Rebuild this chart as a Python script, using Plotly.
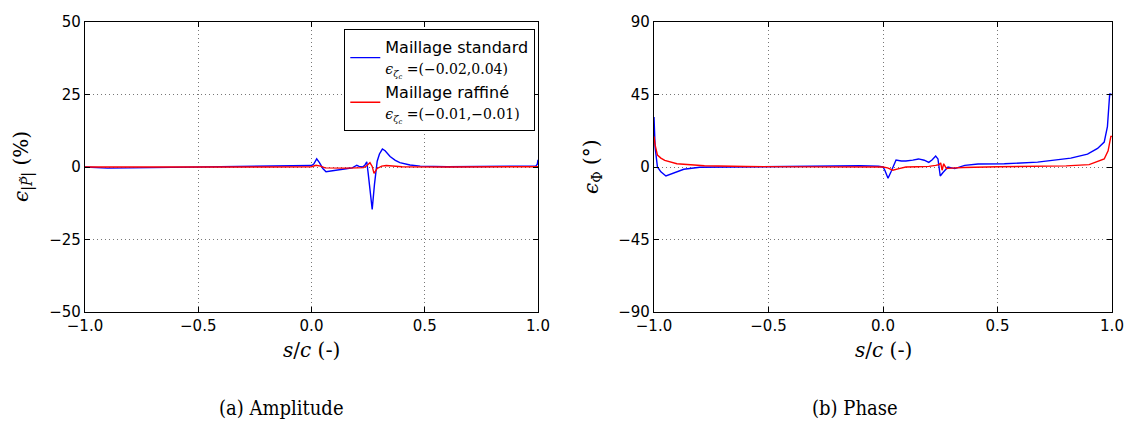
import plotly.graph_objects as go

# ---------------- data ----------------
amp_std_s = [-1.0, -0.95, -0.9, -0.8, -0.6, -0.4, -0.2, -0.05, 0.0, 0.01, 0.023, 0.035, 0.05, 0.064,
             0.08, 0.1, 0.13, 0.16, 0.18, 0.19, 0.2, 0.21, 0.225, 0.235, 0.244, 0.25, 0.258, 0.268,
             0.278, 0.29, 0.3, 0.313, 0.325, 0.347, 0.37, 0.39, 0.435, 0.48, 0.6, 0.8, 0.95, 0.99,
             0.997, 1.0]
amp_std_v = [0, -0.3, -0.4, -0.3, -0.1, 0, 0.1, 0.3, 0.5, 1.0, 2.8, 1.5, -0.5, -1.6,
             -1.4, -1.0, -0.7, -0.5, -0.3, 0.3, 0.6, 0.2, 0.0, 0.6, 1.8, -2.0, -8.0, -14.6,
             -6.0, 2.0, 4.5, 6.2, 5.6, 3.6, 2.3, 1.5, 0.7, 0.3, 0.1, 0.1, 0.2, 0.3,
             1.0, 2.5]

amp_raf_s = [-1.0, -0.8, -0.5, -0.2, 0.0, 0.02, 0.04, 0.06, 0.1, 0.15, 0.2, 0.23, 0.245, 0.258,
             0.268, 0.276, 0.29, 0.31, 0.33, 0.36, 0.4, 0.6, 0.9, 1.0]
amp_raf_v = [0, -0.1, 0, 0, 0.1, 0.6, 0.3, -0.3, -0.4, -0.4, -0.3, -0.2, 0.5, 1.5,
             0.2, -2.2, -0.5, 0.3, 0.5, 0.3, 0.1, 0, 0, 0.1]

ph_std_s = [-1.0, -0.995, -0.985, -0.97, -0.948, -0.915, -0.87, -0.8, -0.6, -0.3, -0.1, -0.02,
            0.0, 0.008, 0.022, 0.035, 0.057, 0.08, 0.1, 0.13, 0.155, 0.18, 0.2, 0.215, 0.23,
            0.24, 0.25, 0.262, 0.284, 0.3, 0.313, 0.357, 0.415, 0.53, 0.675, 0.82, 0.893,
            0.937, 0.966, 0.98, 0.99, 0.995, 1.0]
ph_std_v = [31, 12, 0, -3, -5.6, -3.9, -1.4, -0.2, 0.2, 0.8, 0.8, 0.5,
            0, -2, -7, -3, 4.3, 3.7, 3.7, 4.3, 5.0, 4.2, 2.9, 4.5, 6.8,
            5, -5.6, -3.4, 0, -0.5, -1, 1, 1.9, 2.0, 3.0, 5.5, 8,
            11.5, 15.5, 25, 45.5, 45, 45]

ph_raf_s = [-1.0, -0.995, -0.985, -0.97, -0.953, -0.9, -0.78, -0.6, -0.3, 0.0, 0.02, 0.043,
            0.07, 0.1, 0.15, 0.2, 0.23, 0.245, 0.252, 0.258, 0.265, 0.277, 0.3, 0.35, 0.5,
            0.7, 0.8, 0.9, 0.93, 0.966, 0.983, 0.995, 1.0]
ph_raf_v = [19, 13.6, 7.4, 5.5, 4.1, 2.0, 0.8, 0.3, 0.1, 0, -0.5, -2,
            -1, 0, 0.2, 0.4, 1, 1.5, 2.5, -2, 2, -1, -0.7, -0.3, 0.2,
            0.4, 0.7, 1.5, 3, 5, 10, 19, 19]

x_ticks = [-1.0, -0.5, 0.0, 0.5, 1.0]
x_tick_labels = ["\u22121.0", "\u22120.5", "0.0", "0.5", "1.0"]
amp_ticks = [-50, -25, 0, 25, 50]
amp_tick_labels = ["\u221250", "\u221225", "0", "25", "50"]
ph_ticks = [-90, -45, 0, 45, 90]
ph_tick_labels = ["\u221290", "\u221245", "0", "45", "90"]

name_std = ("Maillage standard<br><span style=\"font-family:'DejaVu Serif';font-size:14px\">"
            "<i>\u03f5</i><sub><i>\u03b6<sub>c</sub></i></sub> =(\u22120.02,0.04)</span>")
name_raf = ("Maillage raffin\u00e9<br><span style=\"font-family:'DejaVu Serif';font-size:14px\">"
            "<i>\u03f5</i><sub><i>\u03b6<sub>c</sub></i></sub> =(\u22120.01,\u22120.01)</span>")

BLUE = "#0000ff"
RED = "#ff0000"
W, H = 1126, 421

fig = go.Figure()
fig.add_trace(go.Scatter(x=amp_std_s, y=amp_std_v, mode="lines", name=name_std,
                         line=dict(color=BLUE, width=1.4), xaxis="x", yaxis="y"))
fig.add_trace(go.Scatter(x=amp_raf_s, y=amp_raf_v, mode="lines", name=name_raf,
                         line=dict(color=RED, width=1.4), xaxis="x", yaxis="y"))
fig.add_trace(go.Scatter(x=ph_std_s, y=ph_std_v, mode="lines", showlegend=False,
                         line=dict(color=BLUE, width=1.4), xaxis="x2", yaxis="y2"))
fig.add_trace(go.Scatter(x=ph_raf_s, y=ph_raf_v, mode="lines", showlegend=False,
                         line=dict(color=RED, width=1.4), xaxis="x2", yaxis="y2"))

ydom = [(H - 312) / H, (H - 22) / H]
common = dict(showline=True, linecolor="black", linewidth=1.3, mirror="allticks",
              ticks="inside", ticklen=5, tickwidth=1, tickcolor="black", automargin=False,
              showgrid=True, gridcolor="#777", griddash="1px,3px", gridwidth=1,
              zeroline=False, tickfont=dict(family="DejaVu Sans", size=15, color="black"))

fig.update_layout(
    width=W, height=H,
    margin=dict(l=0, r=0, t=0, b=0, autoexpand=False),
    paper_bgcolor="white", plot_bgcolor="white",
    showlegend=True,
    xaxis=dict(domain=[85 / W, 538 / W], range=[-1, 1], tickvals=x_ticks,
               ticktext=x_tick_labels, anchor="y", **common),
    yaxis=dict(domain=ydom, range=[-50, 50], tickvals=amp_ticks,
               ticktext=amp_tick_labels, anchor="x", **common),
    xaxis2=dict(domain=[654 / W, 1112 / W], range=[-1, 1], tickvals=x_ticks,
                ticktext=x_tick_labels, anchor="y2", **common),
    yaxis2=dict(domain=ydom, range=[-90, 90], tickvals=ph_ticks,
                ticktext=ph_tick_labels, anchor="x2", **common),
    legend=dict(x=535 / W, y=(H - 29) / H, xanchor="right", yanchor="top",
                bgcolor="white", bordercolor="black", borderwidth=1.3,
                font=dict(family="DejaVu Sans", size=16, color="black"),
                tracegroupgap=4, itemwidth=30),
)

def note(x, y, text, font, angle=0):
    fig.add_annotation(x=x / W, y=(H - y) / H, xref="paper", yref="paper",
                       xanchor="center", yanchor="middle", textangle=angle,
                       text=text, showarrow=False, font=font)

ann_font = dict(family="DejaVu Serif", size=20, color="black")
xt = "<i>s</i>/<i>c</i> (<span style=\"font-family:'DejaVu Sans'\">-</span>)"
note(311.5, 350, xt, ann_font)
note(883, 350, xt, ann_font)
note(22, 167, "<i>\u03f5</i><sub>|<i>P\u0303</i>|</sub> (%)", ann_font, -90)
note(592, 167, "<i>\u03f5</i><sub>\u03a6</sub> (\u00b0)", ann_font, -90)

cap_font = dict(family="DejaVu Serif Condensed", size=20, color="black")
note(281, 408, "(a) Amplitude", cap_font)
note(855, 408, "(b) Phase", cap_font)

fig.write_html("out.html", config={"displayModeBar": False},
               post_script="document.body.style.margin='0px';")
